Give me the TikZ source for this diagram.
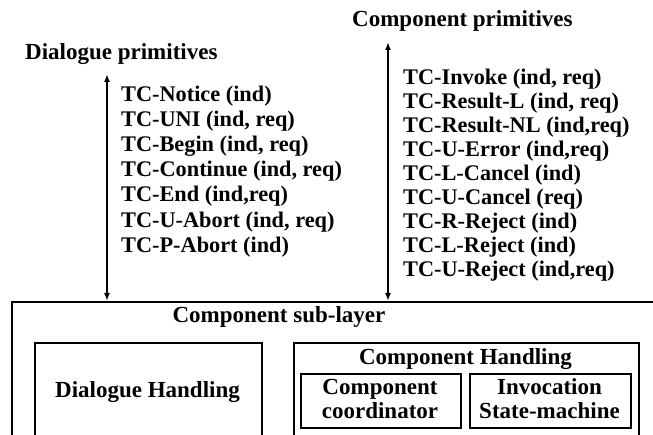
\documentclass[tikz,border=0pt]{standalone}
\usepackage{fontspec}
\setmainfont{Liberation Serif}
\usetikzlibrary{arrows.meta}

\begin{document}
\begin{tikzpicture}[x=1pt,y=-1pt,
    prim/.style={anchor=base west, inner sep=0pt, font=\fontsize{22.3}{24}\selectfont\bfseries},
    head/.style={anchor=base west, inner sep=0pt, font=\fontsize{23}{25}\selectfont\bfseries},
    boxtext/.style={anchor=base, inner sep=0pt, font=\fontsize{23}{25}\selectfont\bfseries},
    box/.style={draw, line width=2.4pt, anchor=north west, inner sep=0pt},
    updown/.style={{Latex[length=8pt,width=6pt]}-{Latex[length=8pt,width=6pt]}, line width=1.6pt}]

    \useasboundingbox (0,0) rectangle (653,435);
    \clip (0,0) rectangle (653,435);

    % Headings
    \node[head] (dlghead)  at (25,60)  {Dialogue primitives};
    \node[head] (comphead) at (352,27) {Component primitives};

    % Dialogue primitives
    \foreach \txt [count=\i] in {TC-Notice (ind), {TC-UNI (ind, req)}, {TC-Begin (ind, req)},
        {TC-Continue (ind, req)}, {TC-End (ind,req)}, {TC-U-Abort (ind, req)}, TC-P-Abort (ind)}
        \node[prim] (dlg\i) at (121,76+25.2*\i) {\txt};

    % Component primitives
    \foreach \txt [count=\i] in {{TC-Invoke (ind, req)}, {TC-Result-L (ind, req)}, {TC-Result-NL (ind,req)},
        {TC-U-Error (ind,req)}, TC-L-Cancel (ind), TC-U-Cancel (req), TC-R-Reject (ind),
        TC-L-Reject (ind), {TC-U-Reject (ind,req)}}
        \node[prim] (comp\i) at (403,61+24*\i) {\txt};

    % Component sub-layer
    \node[box, minimum width=700pt, minimum height=200pt] (sublayer) at (11,301) {};
    \node[boxtext] (subtxt) at (279,323) {Component sub-layer};

    % Dialogue handling
    \node[box, minimum width=227pt, minimum height=110pt] (dlgbox) at (34,342) {};
    \node[boxtext] (dlgtxt) at (147.5,397) {Dialogue Handling};

    % Component handling
    \node[box, minimum width=345pt, minimum height=110pt] (compbox) at (293,342) {};
    \node[boxtext] (comptxt) at (465.5,365) {Component Handling};
    \node[box, minimum width=160pt, minimum height=54pt] (coordbox) at (300,373) {};
    \node[box, minimum width=161pt, minimum height=54pt] (invbox) at (469,373) {};
    \node[boxtext] (coord1) at (380,394) {Component};
    \node[boxtext] (coord2) at (380,418) {coordinator};
    \node[boxtext] (inv1) at (549.5,394) {Invocation};
    \node[boxtext] (inv2) at (549.5,418) {State-machine};

    % Primitive arrows
    \coordinate (dlgtop) at (107,74);
    \coordinate (comptop) at (388,42);
    \draw[updown] (dlgtop) -- (dlgtop |- sublayer.north);
    \draw[updown] (comptop) -- (comptop |- sublayer.north);

\end{tikzpicture}
\end{document}
